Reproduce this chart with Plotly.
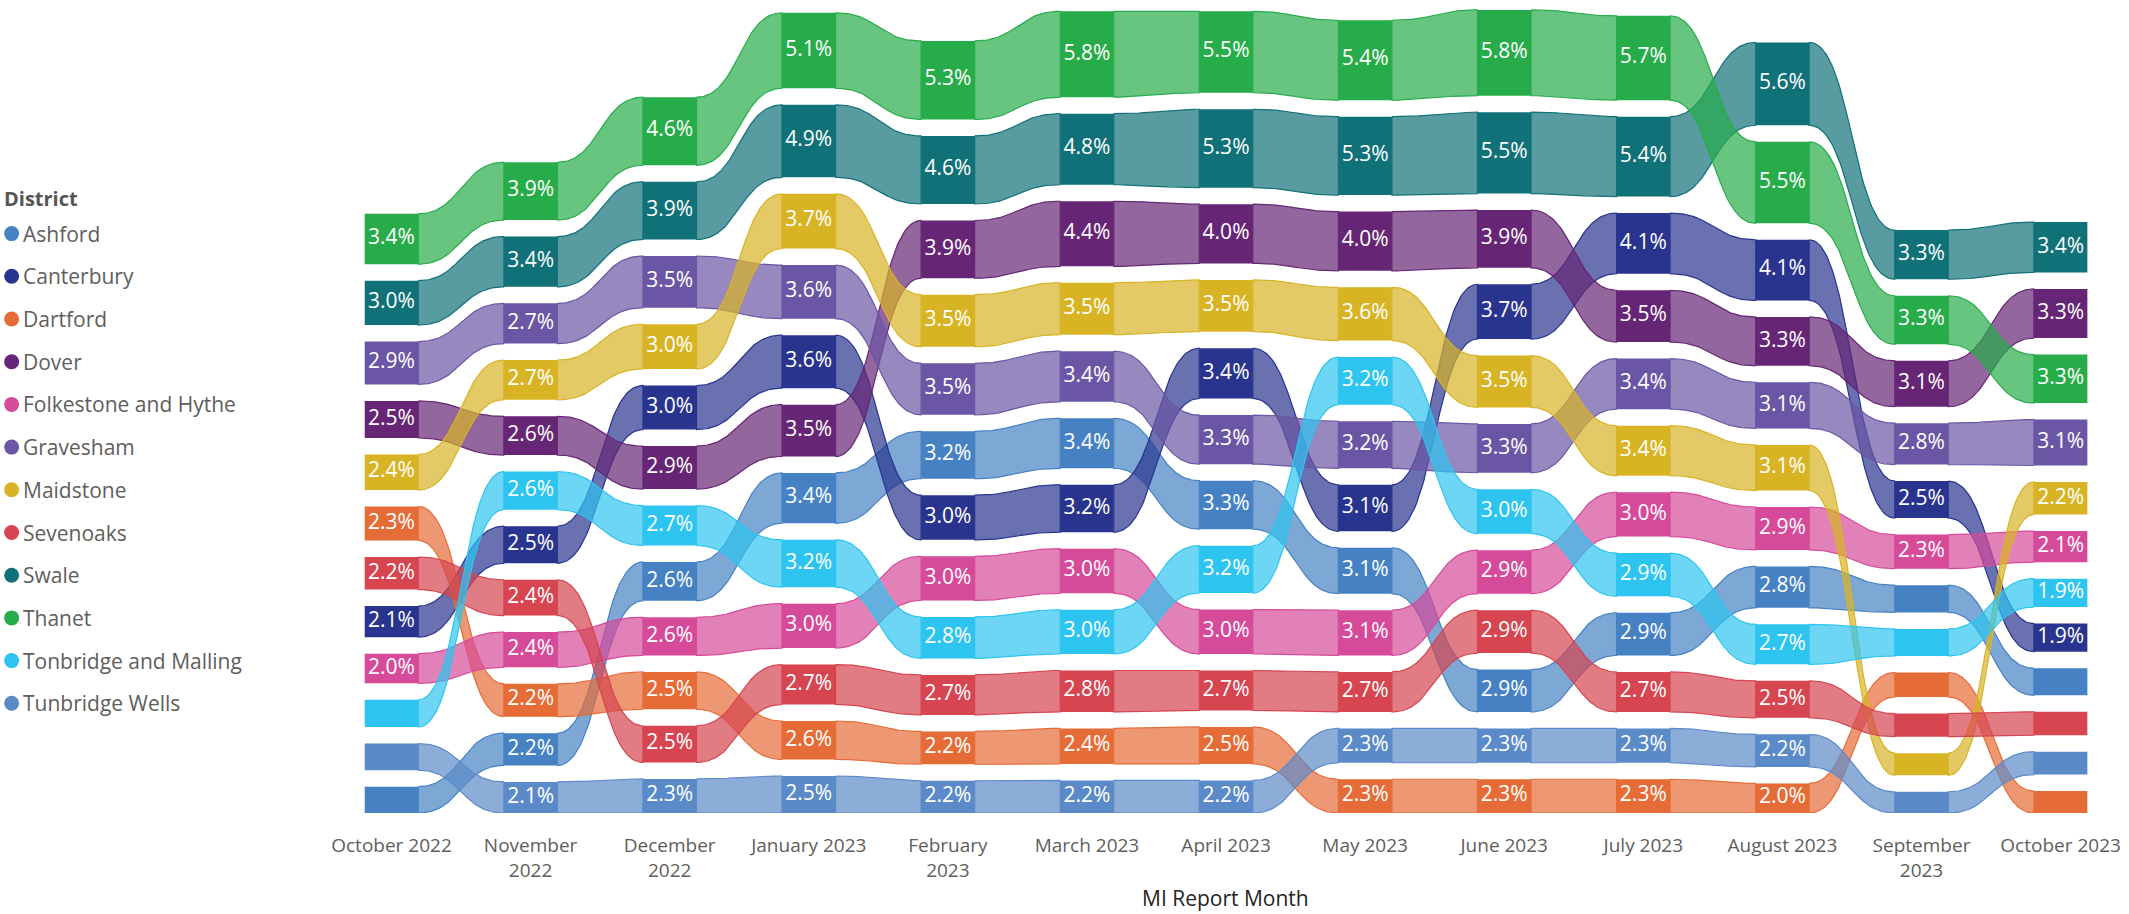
import numpy as np
import plotly.graph_objects as go

# ---------------- data ----------------
months = ["October 2022", "November 2022", "December 2022", "January 2023", "February 2023",
          "March 2023", "April 2023", "May 2023", "June 2023", "July 2023", "August 2023",
          "September 2023", "October 2023"]
tick_labels = ["October 2022", "November<br>2022", "December<br>2022", "January 2023", "February<br>2023",
               "March 2023", "April 2023", "May 2023", "June 2023", "July 2023", "August 2023",
               "September<br>2023", "October 2023"]

districts = ["Ashford", "Canterbury", "Dartford", "Dover", "Folkestone and Hythe", "Gravesham",
             "Maidstone", "Sevenoaks", "Swale", "Thanet", "Tonbridge and Malling", "Tunbridge Wells"]

ashford    = [1.78, 2.18, 2.62, 3.40, 3.20, 3.38, 3.28, 3.10, 2.86, 2.88, 2.80, 1.84, 1.83]
canterbury = [2.10, 2.50, 2.98, 3.58, 3.02, 3.20, 3.40, 3.14, 3.70, 4.10, 4.10, 2.50, 1.90]
dartford   = [2.30, 2.22, 2.52, 2.60, 2.22, 2.40, 2.50, 2.28, 2.28, 2.28, 2.00, 1.66, 1.48]
dover      = [2.50, 2.62, 2.90, 3.50, 3.90, 4.40, 4.00, 4.00, 3.90, 3.50, 3.30, 3.10, 3.32]
folkestone = [2.00, 2.38, 2.58, 3.00, 2.98, 3.02, 3.00, 3.06, 2.94, 3.00, 2.90, 2.30, 2.10]
gravesham  = [2.90, 2.72, 3.50, 3.62, 3.48, 3.42, 3.32, 3.18, 3.30, 3.42, 3.12, 2.80, 3.10]
maidstone  = [2.40, 2.68, 3.02, 3.70, 3.52, 3.50, 3.50, 3.60, 3.50, 3.38, 3.08, 1.50, 2.20]
sevenoaks  = [2.20, 2.42, 2.48, 2.70, 2.70, 2.80, 2.70, 2.70, 2.90, 2.70, 2.50, 1.56, 1.58]
swale      = [3.00, 3.40, 3.90, 4.90, 4.60, 4.80, 5.30, 5.30, 5.50, 5.40, 5.60, 3.32, 3.40]
thanet     = [3.40, 3.90, 4.60, 5.10, 5.30, 5.80, 5.50, 5.40, 5.80, 5.70, 5.50, 3.28, 3.28]
tonbridge  = [1.84, 2.58, 2.70, 3.20, 2.80, 2.98, 3.20, 3.22, 3.00, 2.92, 2.70, 1.83, 1.92]
tunbridge  = [1.80, 2.10, 2.30, 2.50, 2.18, 2.20, 2.20, 2.32, 2.32, 2.32, 2.20, 1.43, 1.55]

series_values = [ashford, canterbury, dartford, dover, folkestone, gravesham,
                 maidstone, sevenoaks, swale, thanet, tonbridge, tunbridge]

colors = ["#4682C3", "#29348F", "#E66C37", "#662575", "#D64A9A", "#6B56A5",
          "#D8B425", "#D64550", "#117178", "#27AC4A", "#2DC5F0", "#5B8AC8"]

# ---------------- styling constants ----------------
GAP = 1.115          # vertical spacing between stacked bars (value units)
BAR_W = 0.385        # bar width (category units)
RIBBON_ALPHA = 0.70
LABEL_MIN = 1.895    # bars smaller than this carry no data label

FONT = "Segoe UI, Open Sans, sans-serif"
W, H = 2129, 914
ML, MR, MT, MB = 300, 20, 8, 101
PW, PH = W - ML - MR, H - MT - MB


def rgba(hexc, a):
    hexc = hexc.lstrip("#")
    r, g, b = int(hexc[0:2], 16), int(hexc[2:4], 16), int(hexc[4:6], 16)
    return f"rgba({r},{g},{b},{a})"


vals = np.array(series_values, dtype=float)       # (n_series, n_months)
n_s, n_m = vals.shape

# stacking: largest on top, each column bottom-aligned at zero
base = np.zeros_like(vals)
for j in range(n_m):
    order = np.argsort(vals[:, j])                 # ascending -> bottom first
    cur = 0.0
    for s in order:
        base[s, j] = cur
        cur += vals[s, j] + GAP

fig = go.Figure()

# ---------------- ribbons ----------------
t = np.linspace(0, 1, 60)
b0 = (1 - t) ** 3 + 3 * (1 - t) ** 2 * t
b1 = 3 * (1 - t) * t ** 2 + t ** 3
for s in range(n_s):
    for j in range(n_m - 1):
        x0, x1 = j + BAR_W / 2, j + 1 - BAR_W / 2
        xm = (x0 + x1) / 2
        xs = (1 - t) ** 3 * x0 + 3 * (1 - t) ** 2 * t * xm + 3 * (1 - t) * t ** 2 * xm + t ** 3 * x1
        top = (base[s, j] + vals[s, j]) * b0 + (base[s, j + 1] + vals[s, j + 1]) * b1
        bot = base[s, j] * b0 + base[s, j + 1] * b1
        px = np.concatenate([xs, xs[::-1], xs[:1]])
        py = np.concatenate([top, bot[::-1], top[:1]])
        fig.add_trace(go.Scatter(
            x=px, y=py, mode="lines", fill="toself",
            fillcolor=rgba(colors[s], RIBBON_ALPHA),
            line=dict(color=colors[s], width=1.2),
            hoverinfo="skip", showlegend=False))

# ---------------- bars ----------------
xidx = np.arange(n_m)
for s in range(n_s):
    fig.add_trace(go.Bar(
        x=xidx, y=vals[s], base=base[s], width=BAR_W,
        marker=dict(color=colors[s], line=dict(width=0)),
        name=districts[s], showlegend=False, hoverinfo="skip"))

# ---------------- data labels ----------------
for s in range(n_s):
    mask = vals[s] >= LABEL_MIN
    fig.add_trace(go.Scatter(
        x=xidx[mask], y=(base[s] + vals[s] / 2)[mask], mode="text",
        text=[f"{v:.1f}%" for v in vals[s][mask]],
        textfont=dict(family=FONT, size=21, color="white"),
        textposition="middle center", hoverinfo="skip", showlegend=False))


# ---------------- manual legend (page pixel positions) ----------------
def px_to_paper_x(px):
    return (px - ML) / PW


def px_to_paper_y(py):
    return (H - MB - py) / PH


annotations = [dict(
    text="<b>District</b>", xref="paper", yref="paper",
    x=px_to_paper_x(1), y=px_to_paper_y(198), xanchor="left", yanchor="middle",
    showarrow=False, font=dict(family=FONT, size=20, color="#555555"))]
shapes = []
for k, name in enumerate(districts):
    cy = 233.6 + 42.7 * k
    r = 7.5
    shapes.append(dict(type="circle", xref="paper", yref="paper",
                       x0=px_to_paper_x(11 - r), x1=px_to_paper_x(11 + r),
                       y0=px_to_paper_y(cy + r), y1=px_to_paper_y(cy - r),
                       fillcolor=colors[k], line=dict(width=0)))
    annotations.append(dict(
        text=name, xref="paper", yref="paper",
        x=px_to_paper_x(20), y=px_to_paper_y(cy), xanchor="left", yanchor="middle",
        showarrow=False, font=dict(family=FONT, size=21, color="#605E5C")))

annotations.append(dict(
    text="MI Report Month", xref="paper", yref="paper",
    x=px_to_paper_x(1228), y=px_to_paper_y(898), xanchor="center", yanchor="middle",
    showarrow=False, font=dict(family=FONT, size=21, color="#252423")))

x_lo = -(391.7 - ML) / 139.4
x_hi = x_lo + PW / 139.4
y_hi = PH / 14.8

fig.update_layout(
    width=W, height=H,
    margin=dict(l=ML, r=MR, t=MT, b=MB, pad=0),
    paper_bgcolor="white", plot_bgcolor="white",
    barmode="overlay",
    showlegend=False,
    annotations=annotations, shapes=shapes,
    xaxis=dict(range=[x_lo, x_hi], tickmode="array", tickvals=list(xidx), ticktext=tick_labels,
               showgrid=False, zeroline=False, showline=False, ticks="",
               ticklabelstandoff=19,
               tickfont=dict(family=FONT, size=19, color="#605E5C"), fixedrange=True),
    yaxis=dict(range=[0, y_hi], visible=False, showgrid=False, zeroline=False, fixedrange=True),
)

fig.write_html("out.html",
               config={"displayModeBar": False},
               post_script="document.body.style.margin='0';document.body.style.overflow='hidden';")
